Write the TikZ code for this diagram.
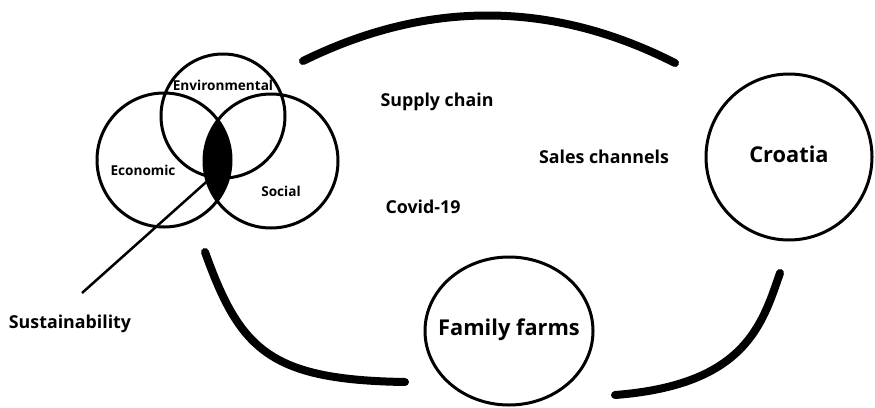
\documentclass[tikz,border=0pt]{standalone}
\usepackage{fontspec}
\setmainfont{Open Sans}
\begin{document}
\begin{tikzpicture}[x=1pt,y=-1pt,
  loop/.style={draw=black,line width=8pt,line cap=round},
  lbl/.style={font=\bfseries\fontsize{17.8}{20}\selectfont,inner sep=0pt},
  vlbl/.style={font=\bfseries\fontsize{13.6}{15}\selectfont,inner sep=0pt},
  biglbl/.style={font=\bfseries\fontsize{21.8}{25}\selectfont,inner sep=0pt}]
\useasboundingbox (0,0) rectangle (875,407);

% sustainability Venn diagram
\coordinate (econC) at (164,160);
\coordinate (socC) at (271,161);
\coordinate (envC) at (223,116);
\begin{scope}
  \clip (econC) circle[radius=67];
  \fill[black] (socC) circle[radius=67];
\end{scope}
\draw[line width=3pt] (econC) circle[radius=67];
\draw[line width=3pt] (socC) circle[radius=67];
\draw[line width=3pt] (envC) circle[radius=62];
\node[vlbl] (env) at (223,85) {Environmental};
\node[vlbl] (eco) at (143,170) {Economic};
\node[vlbl] (soc) at (281,191) {Social};

% pointer to the shared core
\node[lbl] (sus) at (70,324) {Sustainability};
\coordinate (core) at (213,176);
\coordinate (tail) at (82,293);
\draw[line width=2.5pt] (tail) -- (core);

% themes
\node[lbl] (supply) at (437,102) {Supply chain};
\node[lbl] (sales) at (604,157) {Sales channels};
\node[lbl] (covid) at (423,207) {Covid-19};

% main actors
\draw[line width=3pt] (789,157) circle[radius=83];
\node[biglbl] (cro) at (789,154) {Croatia};
\draw[line width=3pt] (509,331) ellipse[x radius=84,y radius=74];
\node[biglbl] (farms) at (509,330) {Family farms};

% cycle arcs
\coordinate (a1) at (303,61);
\coordinate (a2) at (675,63);
\draw[loop] (a1) .. controls (427,0) and (551,0) .. (a2);
\coordinate (b1) at (205,252);
\coordinate (b2) at (405,382);
\draw[loop] (b1) .. controls (240,350) and (270,380) .. (b2);
\coordinate (c1) at (780,273);
\coordinate (c2) at (615,395);
\draw[loop] (c1) .. controls (762,325) and (745,385) .. (c2);
\end{tikzpicture}
\end{document}
